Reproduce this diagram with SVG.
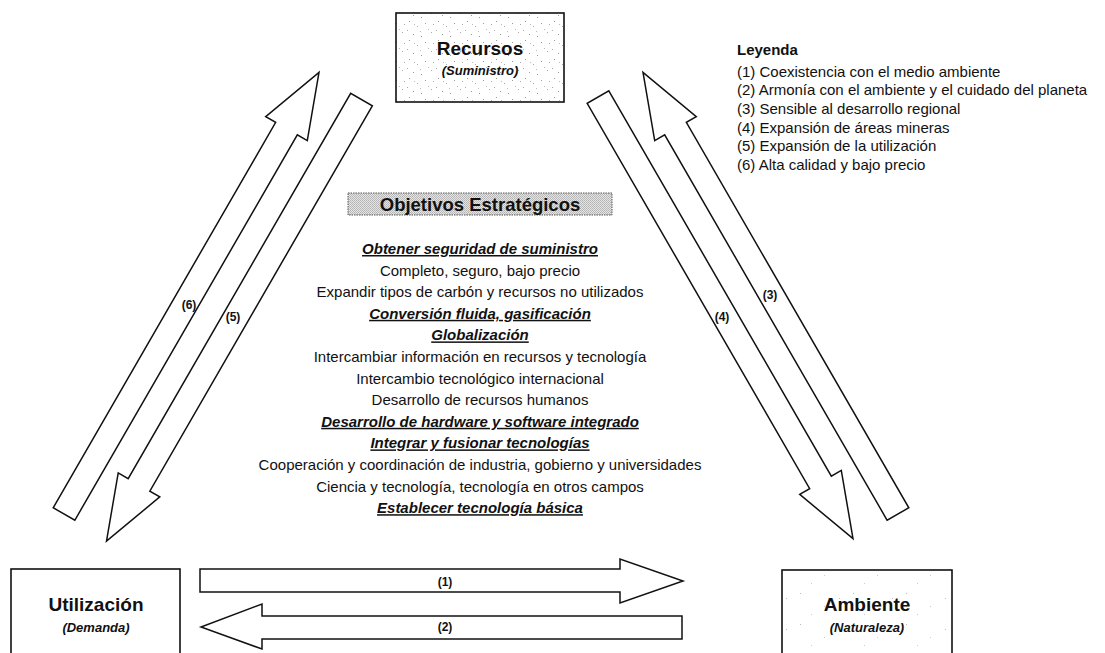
<svg xmlns="http://www.w3.org/2000/svg" width="1105" height="653" viewBox="0 0 1105 653">
  <style>
    text { font-family: "Liberation Sans", Arial, sans-serif; fill: #111; }
    .box { fill: #fff; stroke: #111; stroke-width: 1.6; }
    .arrow { fill: #fff; stroke: #111; stroke-width: 1.5; stroke-linejoin: miter; }
    .title { font-size: 19px; font-weight: bold; text-anchor: middle; }
    .sub { font-size: 13px; font-weight: bold; font-style: italic; text-anchor: middle; }
    .lab { font-size: 12px; font-weight: bold; text-anchor: middle; }
    .obj { font-size: 15px; text-anchor: middle; }
    .objh { font-size: 15px; font-weight: bold; font-style: italic; text-anchor: middle; text-decoration: underline; }
    .leg { font-size: 15px; }
  </style>
  <defs>
    <pattern id="stipple" width="29" height="19" patternUnits="userSpaceOnUse">
      <rect width="29" height="19" fill="#fff"/>
      <rect x="3" y="2" width="1" height="1" fill="#999"/>
      <rect x="11" y="7" width="1" height="1" fill="#aaa"/>
      <rect x="19" y="4" width="1" height="1" fill="#999"/>
      <rect x="25" y="13" width="1" height="1" fill="#aaa"/>
      <rect x="7" y="15" width="1" height="1" fill="#999"/>
      <rect x="27" y="5" width="1" height="1" fill="#aaa"/>
      <rect x="15" y="17" width="1" height="1" fill="#999"/>
      <rect x="22" y="10" width="1" height="1" fill="#bbb"/>
      <rect x="1" y="11" width="1" height="1" fill="#aaa"/>
      <rect x="14" y="12" width="1" height="1" fill="#bbb"/>
      <rect x="8" y="5" width="1" height="1" fill="#bbb"/>
    </pattern>
    <pattern id="sparse" width="53" height="31" patternUnits="userSpaceOnUse">
      <rect width="53" height="31" fill="#fff"/>
      <rect x="5" y="4" width="1" height="1" fill="#bbb"/>
      <rect x="29" y="17" width="1" height="1" fill="#ccc"/>
      <rect x="44" y="9" width="1" height="1" fill="#bbb"/>
      <rect x="16" y="25" width="1" height="1" fill="#ccc"/>
    </pattern>
    <pattern id="halftone" width="2" height="2" patternUnits="userSpaceOnUse">
      <rect width="2" height="2" fill="#e4e4e4"/>
      <rect x="0" y="0" width="1" height="1" fill="#b4b4b4"/>
      <rect x="1" y="1" width="1" height="1" fill="#bcbcbc"/>
    </pattern>
    <polygon id="diag" points="0,-12.5 445,-12.5 445,-24 510,0 445,24 445,12.5 0,12.5"/>
  </defs>

  <rect width="1105" height="653" fill="#fff"/>

  <g id="connectors">
    <use href="#diag" class="arrow" transform="translate(64,514) rotate(-60)"/>
    <use href="#diag" class="arrow" transform="translate(361.5,99.5) rotate(120)"/>
    <use href="#diag" class="arrow" transform="translate(598,97) rotate(60)"/>
    <use href="#diag" class="arrow" transform="translate(898,514) rotate(-120)"/>
    <polygon class="arrow" points="200,569 620,569 620,559 683,581 620,603 620,592 200,592"/>
    <polygon class="arrow" points="682,616 262,616 262,604 201,627 262,649 262,639 682,639"/>
    <text class="lab" x="189" y="309">(6)</text>
    <text class="lab" x="233" y="321">(5)</text>
    <text class="lab" x="770" y="299">(3)</text>
    <text class="lab" x="722" y="321">(4)</text>
    <text class="lab" x="445" y="586">(1)</text>
    <text class="lab" x="445" y="631">(2)</text>
  </g>

  <g id="node-recursos">
    <rect class="box" x="396" y="13" width="168" height="89" style="fill:url(#stipple)"/>
    <text class="title" x="480" y="55">Recursos</text>
    <text class="sub" x="480" y="75">(Suministro)</text>
  </g>

  <g id="node-utilizacion">
    <rect class="box" x="11" y="569" width="169" height="100"/>
    <text class="title" x="96" y="611">Utilización</text>
    <text class="sub" x="96" y="632">(Demanda)</text>
  </g>

  <g id="node-ambiente">
    <rect class="box" x="782" y="570" width="170" height="100" style="fill:url(#sparse)"/>
    <text class="title" x="867" y="611">Ambiente</text>
    <text class="sub" x="867" y="632">(Naturaleza)</text>
  </g>

  <g id="legend">
    <text class="leg" x="737" y="55" font-weight="bold">Leyenda</text>
    <text class="leg" x="737" y="76.5">(1) Coexistencia con el medio ambiente</text>
    <text class="leg" x="737" y="95.2">(2) Armonía con el ambiente y el cuidado del planeta</text>
    <text class="leg" x="737" y="113.9">(3) Sensible al desarrollo regional</text>
    <text class="leg" x="737" y="132.6">(4) Expansión de áreas mineras</text>
    <text class="leg" x="737" y="151.3">(5) Expansión de la utilización</text>
    <text class="leg" x="737" y="170">(6) Alta calidad y bajo precio</text>
  </g>

  <g id="objetivos">
    <rect x="348" y="193" width="264" height="22" style="fill:url(#halftone)" stroke="#555" stroke-width="1" stroke-dasharray="1.5 1"/>
    <text x="480" y="211" font-size="18.5" font-weight="bold" text-anchor="middle">Objetivos Estratégicos</text>
    <text class="objh" x="480" y="254">Obtener seguridad de suministro</text>
    <text class="obj" x="480" y="275.6">Completo, seguro, bajo precio</text>
    <text class="obj" x="480" y="297.2">Expandir tipos de carbón y recursos no utilizados</text>
    <text class="objh" x="480" y="318.8">Conversión fluida, gasificación</text>
    <text class="objh" x="480" y="340.4">Globalización</text>
    <text class="obj" x="480" y="362">Intercambiar información en recursos y tecnología</text>
    <text class="obj" x="480" y="383.6">Intercambio tecnológico internacional</text>
    <text class="obj" x="480" y="405.2">Desarrollo de recursos humanos</text>
    <text class="objh" x="480" y="426.8">Desarrollo de hardware y software integrado</text>
    <text class="objh" x="480" y="448.4">Integrar y fusionar tecnologías</text>
    <text class="obj" x="480" y="470">Cooperación y coordinación de industria, gobierno y universidades</text>
    <text class="obj" x="480" y="491.6">Ciencia y tecnología, tecnología en otros campos</text>
    <text class="objh" x="480" y="513.2">Establecer tecnología básica</text>
  </g>
</svg>
